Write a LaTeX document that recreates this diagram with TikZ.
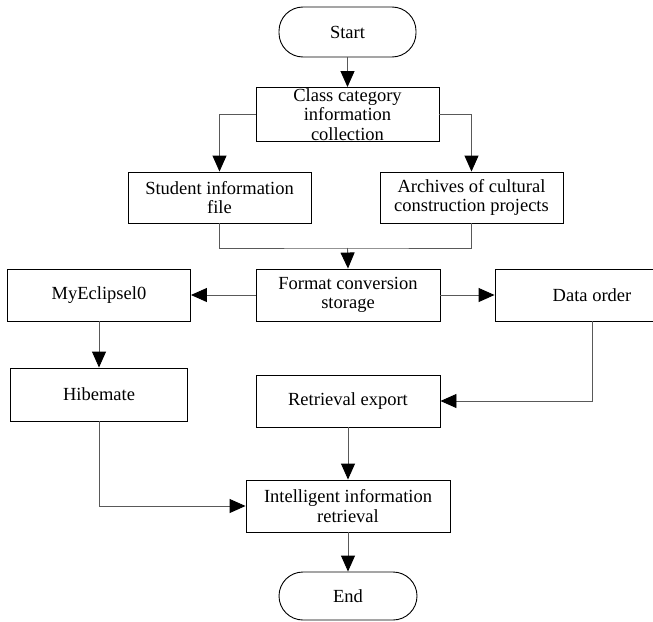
\documentclass[tikz,border=0pt]{standalone}
\usepackage{fontspec}
\setmainfont{Liberation Serif}
\usetikzlibrary{arrows.meta,calc}

\begin{document}
\begin{tikzpicture}[x=1pt,y=-1pt,
  box/.style={draw,line width=0.9pt,align=center,inner sep=1pt,
    font=\fontsize{18.5}{19.5}\selectfont},
  term/.style={box,rounded corners=24pt},
  arr/.style={draw=black!65,line width=0.9pt,-{Triangle[length=16pt,width=14pt,fill=black,color=black]}},
  ln/.style={draw=black!65,line width=0.9pt}]
\useasboundingbox (0,0) rectangle (653,621);

% Terminals
\node[term,minimum width=137pt,minimum height=50pt] (start) at (347.5,32) {Start};
\node[term,minimum width=138pt,minimum height=48pt] (end) at (348,596) {End};

% Process boxes
\node[box,minimum width=183pt,minimum height=53pt] (class) at (347.5,114.5) {Class category\\information\\collection};
\node[box,minimum width=183pt,minimum height=51pt] (student) at (219.5,197.5) {Student information\\file};
\node[box,minimum width=183pt,minimum height=51pt] (archives) at (471.5,197.5) {Archives of cultural\\construction projects};
\node[box,minimum width=184pt,minimum height=52pt] (format) at (348,295) {Format conversion\\storage};
\node[box,minimum width=183pt,minimum height=52pt] (myeclipse) at (99,295) {MyEclipsel0};
\node[box,minimum width=194pt,minimum height=52pt] (data) at (592,295) {Data order};
\node[box,minimum width=177pt,minimum height=53pt] (hibernate) at (99,394.5) {Hibemate};
\node[box,minimum width=184pt,minimum height=52pt] (retrieval) at (348,401) {Retrieval export};
\node[box,minimum width=204pt,minimum height=52pt] (intelligent) at (348,506) {Intelligent information\\retrieval};

% Join point
\coordinate (join) at (347.5,248);

% Connectors
\draw[arr] (start) -- (class);
\draw[arr] (class.west) -| (student.north);
\draw[arr] (class.east) -| (archives.north);
\draw[ln] (student.south) |- (join) -| (archives.south);
\draw[arr] (join) -- (format.north);
\draw[arr] (format.west) -- (myeclipse.east);
\draw[arr] (format.east) -- (data.west);
\draw[arr] (myeclipse) -- (hibernate);
\draw[arr] (data.south) |- (retrieval.east);
\draw[arr] (retrieval) -- (intelligent);
\draw[arr] (hibernate.south) |- (intelligent.west);
\draw[arr] (intelligent) -- (end);

\end{tikzpicture}
\end{document}
